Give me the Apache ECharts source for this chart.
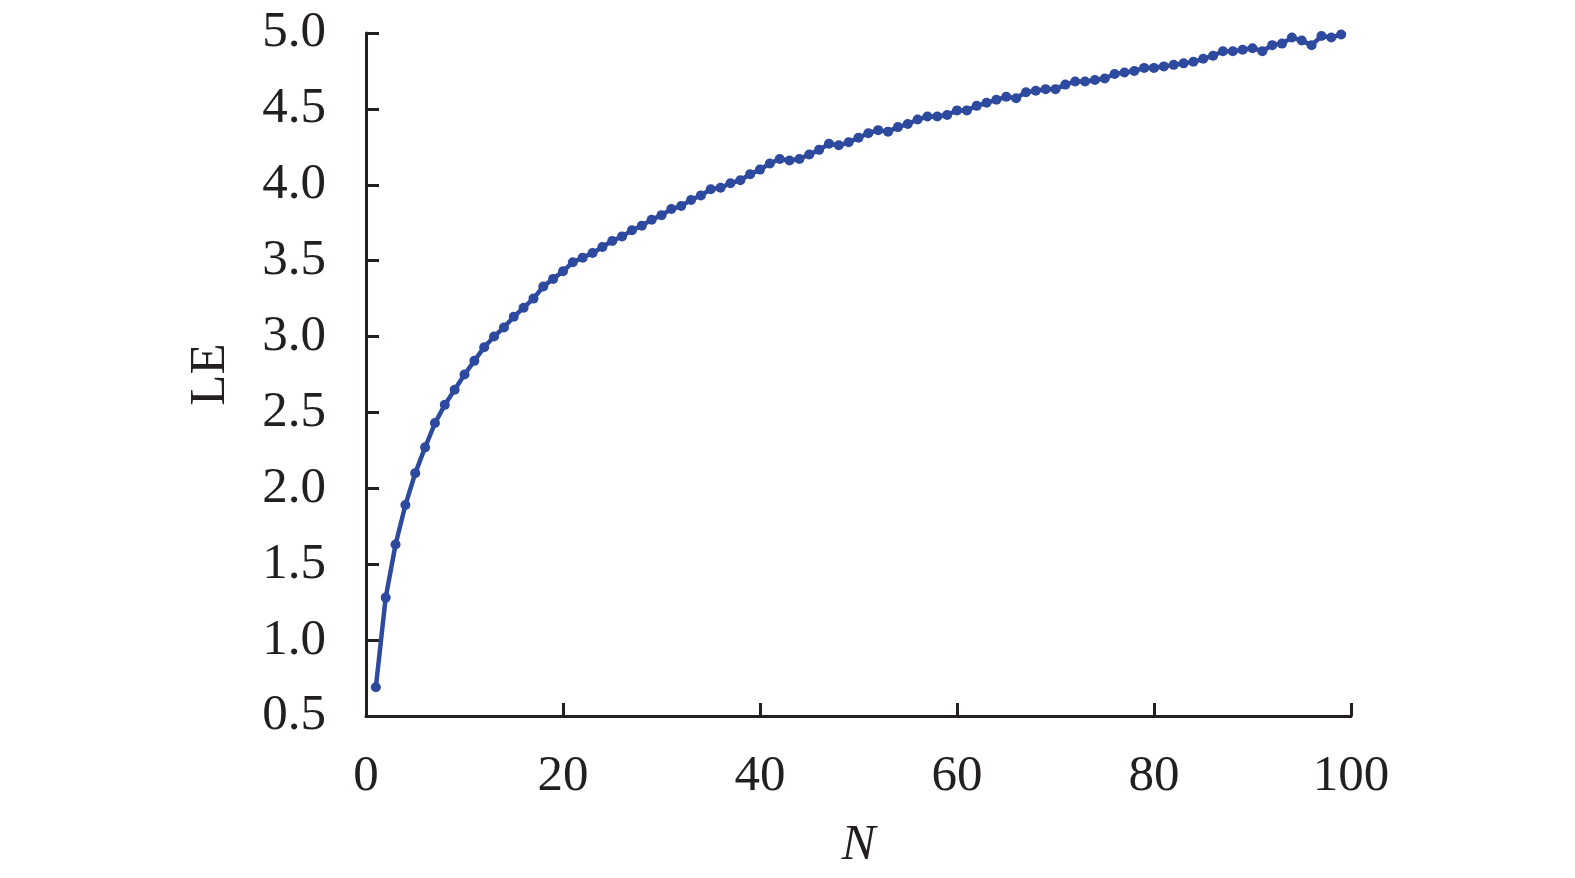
<!DOCTYPE html>
<html>
<head>
<meta charset="utf-8">
<script src="https://cdn.jsdelivr.net/npm/echarts@6/dist/echarts.min.js"></script>
<style>
html,body{margin:0;padding:0;background:#fff;}
#chart{width:1575px;height:878px;}
</style>
</head>
<body>
<div id="chart"></div>
<script>
var nValues = [];
for (var i = 1; i <= 99; i++) nValues.push(i);
var leValues = [
  0.69, 1.28, 1.63, 1.89, 2.10, 2.27, 2.43, 2.55, 2.65, 2.75,
  2.84, 2.93, 3.00, 3.06, 3.13, 3.19, 3.25, 3.33, 3.38, 3.43,
  3.49, 3.52, 3.55, 3.59, 3.63, 3.66, 3.70, 3.73, 3.77, 3.80,
  3.84, 3.86, 3.90, 3.93, 3.97, 3.98, 4.01, 4.03, 4.07, 4.10,
  4.14, 4.17, 4.16, 4.17, 4.20, 4.23, 4.27, 4.26, 4.28, 4.31,
  4.34, 4.36, 4.35, 4.38, 4.40, 4.43, 4.45, 4.45, 4.46, 4.49,
  4.49, 4.52, 4.54, 4.56, 4.58, 4.57, 4.61, 4.62, 4.63, 4.63,
  4.66, 4.68, 4.68, 4.69, 4.70, 4.73, 4.74, 4.75, 4.77, 4.77,
  4.78, 4.79, 4.80, 4.81, 4.83, 4.85, 4.88, 4.88, 4.89, 4.90,
  4.88, 4.92, 4.93, 4.97, 4.95, 4.92, 4.98, 4.97, 4.99
];
var xTicks = [0, 20, 40, 60, 80, 100];
var yTicks = [0.5, 1.0, 1.5, 2.0, 2.5, 3.0, 3.5, 4.0, 4.5, 5.0];

var points = nValues.map(function (n, i) { return [n, leValues[i]]; });
var font = '"Liberation Serif", "Times New Roman", serif';
var axisColor = '#231f20';

var chart = echarts.init(document.getElementById('chart'));
chart.setOption({
  animation: false,
  backgroundColor: '#ffffff',
  grid: { left: 366, right: 224, top: 33, bottom: 162, containLabel: false },
  xAxis: {
    type: 'value',
    min: xTicks[0], max: xTicks[xTicks.length - 1], interval: 20,
    name: 'N',
    nameLocation: 'middle',
    nameGap: 104,
    nameTextStyle: { fontFamily: font, fontSize: 51, fontStyle: 'italic', color: axisColor },
    axisLine: { show: true, lineStyle: { color: axisColor, width: 3 } },
    axisTick: { show: true, inside: true, length: 13, lineStyle: { color: axisColor, width: 3 } },
    axisLabel: { fontFamily: font, fontSize: 51, color: axisColor, margin: 35 },
    splitLine: { show: false }
  },
  yAxis: {
    type: 'value',
    min: yTicks[0], max: yTicks[yTicks.length - 1], interval: 0.5,
    name: 'LE',
    nameLocation: 'middle',
    nameGap: 130,
    nameRotate: 90,
    nameTextStyle: { fontFamily: font, fontSize: 51, color: axisColor },
    axisLine: { show: true, lineStyle: { color: axisColor, width: 3 } },
    axisTick: { show: true, inside: true, length: 13, lineStyle: { color: axisColor, width: 3 } },
    axisLabel: {
      fontFamily: font, fontSize: 51, color: axisColor, margin: 40,
      formatter: function (v) { return v.toFixed(1); }
    },
    splitLine: { show: false }
  },
  series: [{
    type: 'line',
    data: points,
    symbol: 'circle',
    symbolSize: 10,
    showSymbol: true,
    lineStyle: { color: '#2e4a9e', width: 4.5 },
    itemStyle: { color: '#2e4a9e' }
  }]
});
</script>
</body>
</html>
